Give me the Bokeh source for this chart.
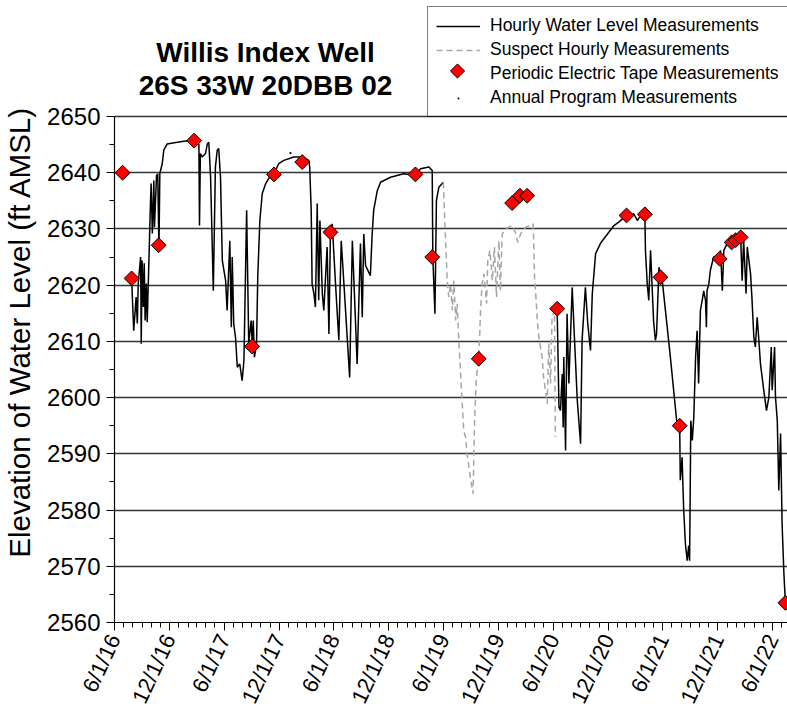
import math
import pandas as pd
from bokeh.plotting import figure
from bokeh.models import Range1d, FixedTicker, Legend, LegendItem, Label
from bokeh.embed import file_html
from bokeh.resources import INLINE

# ---------------- data (days since 2016-06-01, elevation ft AMSL) ----------------
start_date = "2016-06-01"

hourly_a_day = [57, 64, 72, 76, 79, 87, 89, 92, 96, 99, 102, 106, 109, 114, 120, 122, 126, 131, 133, 140,
                144, 148, 151, 159, 164, 175, 209, 242, 275, 281, 283, 286, 292, 303, 309, 314, 320, 329,
                336, 342, 347, 353, 359, 370, 375, 384, 389, 392, 397, 403, 409, 417, 425, 431, 440, 447,
                455, 459, 462, 466, 473, 477, 484, 492, 503, 519, 530, 547, 564, 597, 625, 647, 650, 655,
                658, 664, 669, 675, 680, 684, 692, 697, 708, 714, 719, 725, 736, 747, 755, 764, 783, 792,
                808, 819, 825, 830, 836, 852, 858, 863, 875, 886, 919, 963, 1002, 1019, 1047, 1058, 1059,
                1060, 1067, 1072, 1080, 1095]
hourly_a_level = [2621.2, 2611.9, 2617.9, 2613.2, 2620.3, 2625.0, 2609.6, 2624.4, 2616.1, 2623.9, 2613.7,
                  2620.3, 2613.4, 2623.2, 2635.1, 2638.1, 2629.2, 2638.6, 2630.3, 2639.5, 2639.8, 2626.2,
                  2639.9, 2641.6, 2644.0, 2645.1, 2645.4, 2645.7, 2645.4, 2645.1, 2630.6, 2643.4, 2642.8,
                  2643.4, 2645.1, 2645.4, 2639.2, 2619.0, 2641.0, 2644.0, 2644.3, 2639.2, 2624.4, 2620.8,
                  2615.5, 2627.9, 2612.5, 2625.0, 2613.1, 2610.7, 2605.4, 2606.0, 2603.0, 2606.6, 2633.3,
                  2609.6, 2613.7, 2609.0, 2613.7, 2607.2, 2609.6, 2621.4, 2631.5, 2636.3, 2638.0, 2639.5,
                  2639.8, 2641.6, 2642.2, 2642.8, 2642.8, 2642.2, 2641.0, 2633.3, 2620.2, 2618.5, 2616.1,
                  2634.5, 2617.3, 2631.5, 2618.5, 2615.5, 2626.8, 2611.3, 2629.4, 2630.9, 2620.2, 2610.2,
                  2627.9, 2620.2, 2603.6, 2627.9, 2606.0, 2627.4, 2614.3, 2629.1, 2623.5, 2621.7, 2629.1,
                  2633.3, 2636.8, 2638.3, 2639.2, 2639.8, 2639.5, 2640.7, 2641.0, 2640.4, 2632.1, 2625.0,
                  2614.9, 2635.1, 2637.4, 2638.3]

hourly_b_day = [1474, 1480, 1485, 1491, 1494, 1496, 1502, 1507, 1513, 1524, 1535, 1541, 1552, 1557, 1568,
                1576, 1585, 1591, 1602, 1618, 1629, 1646, 1663, 1679, 1705, 1718, 1729, 1741, 1752, 1766,
                1768, 1774, 1779, 1785, 1795, 1801, 1805, 1813, 1818, 1824, 1851, 1873, 1882, 1884, 1890,
                1895, 1901, 1907, 1912, 1915, 1919, 1924, 1929, 1935, 1940, 1945, 1951, 1957, 1962, 1968,
                1971, 1973, 1979, 1984, 1995, 2015, 2018, 2024, 2029, 2040, 2055, 2068, 2085, 2090, 2095,
                2103, 2107, 2118, 2123, 2129, 2134, 2140, 2145, 2151, 2162, 2171, 2179, 2187, 2190, 2198,
                2201, 2207, 2212, 2218, 2223, 2229, 2234]
hourly_b_level = [2615.8, 2598.3, 2597.7, 2604.2, 2594.7, 2607.2, 2590.6, 2614.9, 2602.5, 2619.6, 2606.6,
                  2599.5, 2591.8, 2610.2, 2619.6, 2613.1, 2608.4, 2618.5, 2625.6, 2627.4, 2628.2, 2629.4,
                  2630.6, 2631.2, 2632.4, 2632.4, 2632.7, 2631.5, 2632.4, 2632.6, 2626.2, 2620.2, 2617.3,
                  2626.2, 2613.7, 2610.2, 2611.3, 2623.2, 2621.4, 2620.8, 2607.2, 2595.3, 2595.0, 2585.3,
                  2589.4, 2580.5, 2574.0, 2571.0, 2573.7, 2571.0, 2595.9, 2592.4, 2596.5, 2607.2, 2611.9,
                  2602.5, 2615.5, 2617.3, 2619.0, 2617.3, 2612.5, 2619.0, 2620.2, 2622.6, 2625.0, 2624.7,
                  2626.2, 2619.0, 2626.2, 2627.4, 2627.6, 2628.0, 2628.5, 2620.8, 2628.0, 2618.5, 2626.8,
                  2622.0, 2617.3, 2610.7, 2609.0, 2614.3, 2610.7, 2606.0, 2601.3, 2597.7, 2600.1, 2609.0,
                  2601.3, 2609.0, 2600.1, 2595.9, 2583.5, 2593.6, 2577.6, 2568.7, 2563.5]

suspect_day = [1095, 1102, 1108, 1113, 1119, 1125, 1130, 1136, 1141, 1147, 1152, 1158, 1163, 1169, 1174,
               1185, 1194, 1199, 1205, 1213, 1219, 1224, 1230, 1239, 1243, 1250, 1258, 1265, 1272, 1280,
               1285, 1291, 1302, 1313, 1324, 1335, 1343, 1352, 1369, 1385, 1394, 1396, 1399, 1402, 1408,
               1413, 1424, 1429, 1441, 1446, 1452, 1457, 1465, 1468]
suspect_level = [2638.3, 2628.5, 2620.8, 2617.9, 2620.2, 2615.5, 2620.8, 2613.7, 2616.7, 2609.6, 2604.8,
                 2598.9, 2594.1, 2593.0, 2590.0, 2585.8, 2582.9, 2595.9, 2603.6, 2606.9, 2615.5, 2620.2,
                 2622.0, 2616.7, 2624.4, 2626.2, 2620.8, 2626.8, 2617.9, 2627.9, 2619.0, 2629.1, 2630.0,
                 2630.3, 2630.6, 2629.4, 2627.6, 2629.1, 2630.3, 2630.6, 2630.9, 2627.4, 2620.8, 2619.0,
                 2613.7, 2610.7, 2607.2, 2603.6, 2598.9, 2609.6, 2602.5, 2614.3, 2615.5, 2593.0]

tape_day = [27, 57, 147, 265, 458, 531, 625, 719, 1002, 1058, 1213, 1324, 1350, 1374, 1474, 1705, 1766,
            1818, 1882, 2015, 2055, 2068, 2085, 2234]
tape_level = [2640.0, 2621.2, 2627.1, 2645.7, 2609.1, 2639.7, 2641.9, 2629.4, 2639.7, 2625.0, 2606.9,
              2634.6, 2635.9, 2635.9, 2615.8, 2632.4, 2632.6, 2621.4, 2595.0, 2624.7, 2627.6, 2628.0,
              2628.5, 2563.5]

annual_day = [586]
annual_level = [2643.5]

x_tick_dates = ["2016-06-01", "2016-12-01", "2017-06-01", "2017-12-01", "2018-06-01", "2018-12-01",
                "2019-06-01", "2019-12-01", "2020-06-01", "2020-12-01", "2021-06-01", "2021-12-01",
                "2022-06-01"]
x_tick_labels = ["6/1/16", "12/1/16", "6/1/17", "12/1/17", "6/1/18", "12/1/18", "6/1/19", "12/1/19",
                 "6/1/20", "12/1/20", "6/1/21", "12/1/21", "6/1/22"]
x_end_date = "2022-07-21"
y_ticks = [2560, 2570, 2580, 2590, 2600, 2610, 2620, 2630, 2640, 2650]
y_minor = [2565, 2575, 2585, 2595, 2605, 2615, 2625, 2635, 2645]
y_top = 2670.63  # headroom above the axis for title and legend

title_lines = ["Willis Index Well", "26S 33W 20DBB 02"]
y_label = "Elevation of Water Level (ft AMSL)"
legend_labels = ["Hourly Water Level Measurements", "Suspect Hourly Measurements",
                 "Periodic Electric Tape Measurements", "Annual Program Measurements"]

# ---------------- helpers ----------------
t0 = pd.Timestamp(start_date)
EPOCH = pd.Timestamp("1970-01-01")


def to_ms(ts):
    return (ts - EPOCH) / pd.Timedelta(milliseconds=1)


def days_to_ms(days):
    return [to_ms(t0 + pd.Timedelta(days=d)) for d in days]


nan = float("nan")
black_x = days_to_ms(hourly_a_day) + [nan] + days_to_ms(hourly_b_day)
black_y = hourly_a_level + [nan] + hourly_b_level

FONT = "Liberation Sans"
W, H = 787, 715
BL, BB = 114, 93
frame_w, frame_h = W - BL, H - BB

x0_ms, x1_ms = to_ms(t0), to_ms(pd.Timestamp(x_end_date))

p = figure(width=W, height=H, output_backend="svg", toolbar_location=None,
           x_range=Range1d(x0_ms, x1_ms), y_range=Range1d(y_ticks[0], y_top),
           min_border_left=BL, min_border_right=0, min_border_top=0, min_border_bottom=BB)
p.outline_line_color = None
p.background_fill_color = "white"
p.border_fill_color = "white"

# grid
p.xgrid.visible = False
p.ygrid.ticker = FixedTicker(ticks=y_ticks)
p.ygrid.grid_line_color = "#333333"
p.ygrid.grid_line_width = 1.4

# axes
major_ms = [to_ms(pd.Timestamp(d)) for d in x_tick_dates]
minor_ms = [to_ms(d) for d in pd.date_range(start_date, x_end_date, freq="MS")]
p.xaxis.ticker = FixedTicker(ticks=major_ms, minor_ticks=minor_ms)
p.xaxis.major_label_overrides = {m: lab for m, lab in zip(major_ms, x_tick_labels)}
p.xaxis.major_label_orientation = math.radians(65)
p.yaxis.ticker = FixedTicker(ticks=y_ticks, minor_ticks=y_minor)
p.yaxis.bounds = (y_ticks[0], y_ticks[-1])

for ax in (p.xaxis, p.yaxis):
    ax.axis_line_color = "black"
    ax.axis_line_width = 1.2
    ax.major_tick_line_color = "black"
    ax.minor_tick_line_color = "black"
    ax.major_tick_in = 0
    ax.major_tick_out = 8
    ax.minor_tick_in = 0
    ax.minor_tick_out = 5
    ax.major_label_text_font = FONT
    ax.major_label_text_color = "black"

p.xaxis.major_label_text_font_size = "22px"
p.xaxis.major_label_standoff = 5
p.yaxis.major_label_text_font_size = "24px"
p.yaxis.major_label_standoff = 6
# trailing no-break spaces nudge the centred label slightly downward, as in the original
p.yaxis.axis_label = y_label + "\u00a0" * 5
p.yaxis.axis_label_text_font = FONT
p.yaxis.axis_label_text_font_size = "29.5px"
p.yaxis.axis_label_text_font_style = "normal"
p.yaxis.axis_label_text_color = "black"
p.yaxis.axis_label_standoff = 8

# glyphs
r_black = p.line(black_x, black_y, line_color="black", line_width=1.5)
r_susp = p.line(days_to_ms(suspect_day), suspect_level, line_color="#a6a6a6", line_width=1.5,
                line_dash="6 4")
r_annual = p.scatter(days_to_ms(annual_day), annual_level, marker="dot", size=9,
                     fill_color="black", line_color="black")
r_tape = p.scatter(days_to_ms(tape_day), tape_level, marker="square", angle=math.pi / 4, size=10.5,
                   fill_color="#ff0000", line_color="black", line_width=1)
# legend-only stand-in for the tape key (the rotated key is drawn under the see-through legend)
r_tape_key = p.scatter([], [], marker="square", fill_alpha=0, line_alpha=0)

# legend layout
LEG_X, LEG_Y = 313, 505          # bottom-left corner, pixels from frame's bottom-left
PAD, GW, ROW_H, SP = 8, 44, 21, 3
legend = Legend(items=[LegendItem(label=legend_labels[0], renderers=[r_black]),
                       LegendItem(label=legend_labels[1], renderers=[r_susp]),
                       LegendItem(label=legend_labels[2], renderers=[r_tape_key]),
                       LegendItem(label=legend_labels[3], renderers=[r_annual])],
                location=(LEG_X, LEG_Y), orientation="vertical",
                border_line_color="black", border_line_width=1, background_fill_color="white",
                background_fill_alpha=0.0, label_text_font=FONT, label_text_font_size="17.5px",
                label_text_color="black", glyph_width=GW, glyph_height=20, label_height=20,
                spacing=SP, padding=PAD, label_standoff=10, margin=0)
p.add_layout(legend)

# rotated diamond key for the third legend row, positioned from the legend layout
leg_h = 2 * PAD + 4 * ROW_H + 3 * SP
key_px = LEG_X + PAD + GW / 2
key_py = LEG_Y + leg_h - PAD - 2 * (ROW_H + SP) - ROW_H / 2 + 4
key_x = x0_ms + key_px / frame_w * (x1_ms - x0_ms)
key_y = y_ticks[0] + key_py / frame_h * (y_top - y_ticks[0])
p.scatter([key_x], [key_y], marker="square", angle=math.pi / 4, size=10, fill_color="#ff0000",
          line_color="black", line_width=1)

TITLE_CX, TITLE_CY, TITLE_DY = 151, 570, 33
for i, line in enumerate(title_lines):
    p.add_layout(Label(x=TITLE_CX, y=TITLE_CY - TITLE_DY * i, x_units="screen", y_units="screen",
                       text=line, text_align="center", text_baseline="middle", text_font=FONT,
                       text_font_size="28px", text_font_style="bold", text_color="black"))

open("out.html", "w").write(file_html(p, INLINE))
